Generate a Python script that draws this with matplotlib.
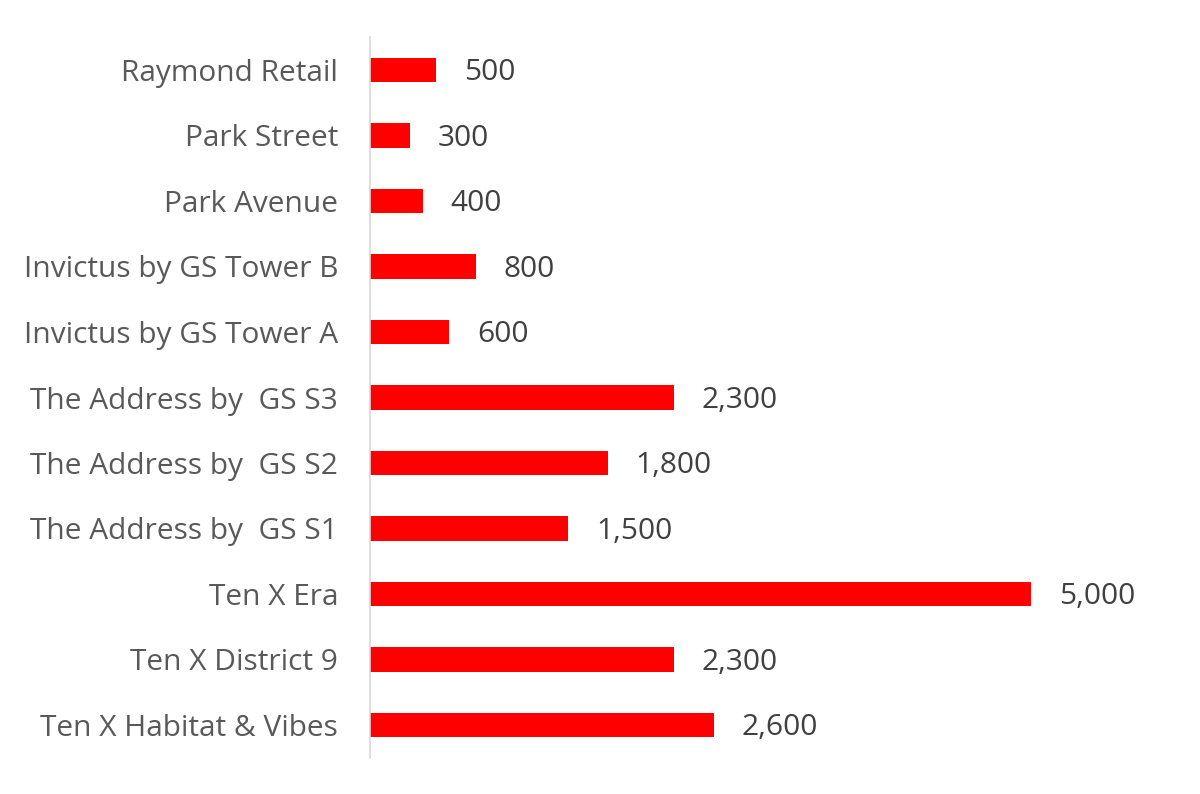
import matplotlib
matplotlib.use("Agg")
import matplotlib.pyplot as plt

categories = ["Raymond Retail", "Park Street", "Park Avenue", "Invictus by GS Tower B",
              "Invictus by GS Tower A", "The Address by  GS S3", "The Address by  GS S2",
              "The Address by  GS S1", "Ten X Era", "Ten X District 9", "Ten X Habitat & Vibes"]
values = [500, 300, 400, 800, 600, 2300, 1800, 1500, 5000, 2300, 2600]

plt.rcParams['font.family'] = ['Open Sans', 'DejaVu Sans']
fig = plt.figure(figsize=(12, 7.94), dpi=100)
ax = fig.add_axes([370/1200, 1-757.75/794, 661/1200, (757.75-37.25)/794])

ypos = list(range(len(categories)))
ax.barh(ypos, values, height=0.38, color="#ff0000")
ax.set_ylim(len(categories)-0.5, -0.5)
ax.set_xlim(0, 5000)
ax.set_yticks(ypos)
ax.set_yticklabels(categories, fontsize=21.5, color="#595959")
ax.tick_params(axis='y', length=0, pad=23)
ax.set_xticks([])
for s in ["top", "right", "bottom"]:
    ax.spines[s].set_visible(False)
ax.spines["left"].set_color("#d9d9d9")
ax.spines["left"].set_linewidth(1.2)

for y, v in zip(ypos, values):
    ax.annotate(f"{v:,}", xy=(v, y), xytext=(20, -2), textcoords="offset points",
                va="center", ha="left", fontsize=21.5, color="#404040", annotation_clip=False)

fig.savefig("out.png", dpi=100, facecolor="white")
